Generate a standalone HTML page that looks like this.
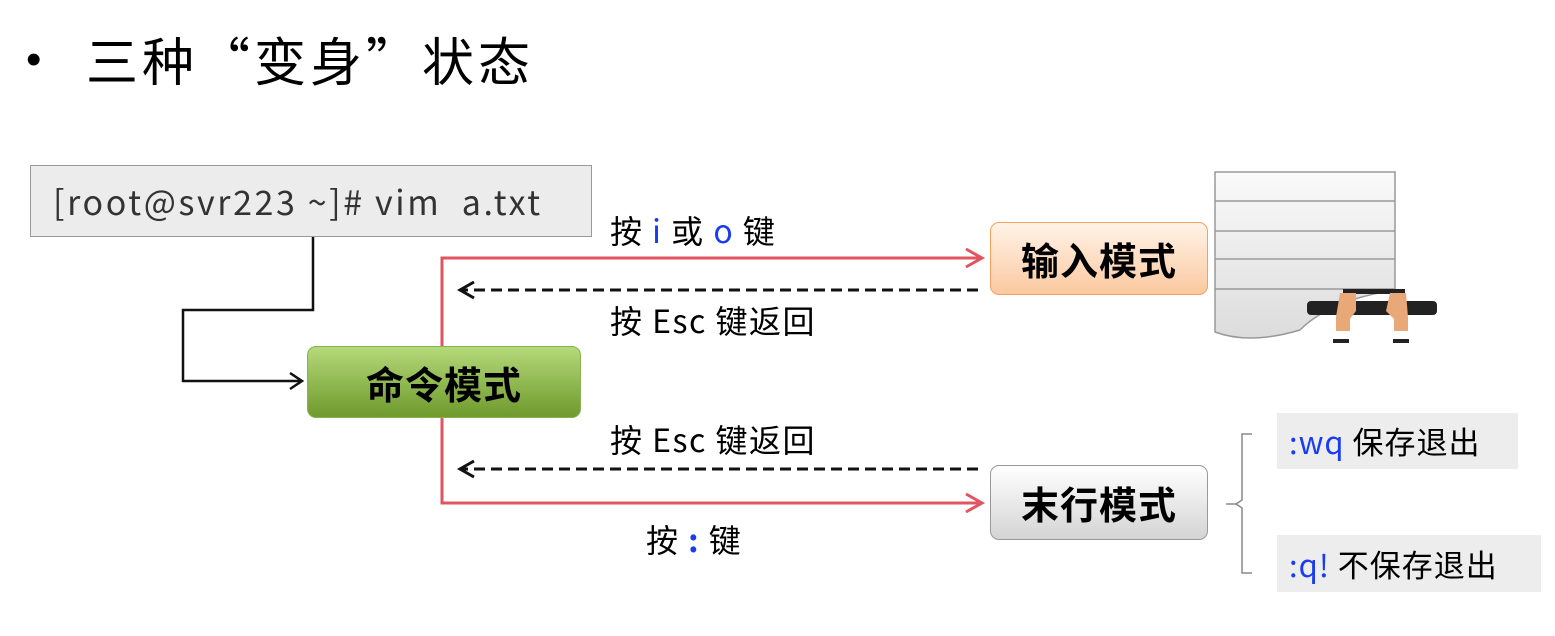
<!DOCTYPE html>
<html><head><meta charset="utf-8"><style>
body{margin:0;width:1555px;height:636px;background:#fff;position:relative;overflow:hidden;font-family:"Noto Sans CJK SC","Liberation Sans",sans-serif}
.a{position:absolute;white-space:nowrap}
.box{position:absolute;display:flex;align-items:center;justify-content:center;font-weight:bold;font-size:38px;color:#000;border-radius:9px;box-sizing:border-box;letter-spacing:1px}
.lbl{position:absolute;font-size:32px;color:#000;white-space:nowrap;line-height:40px;letter-spacing:1.5px}
.b{color:#1a3cf0}
</style></head><body>
<div class="a" style="left:26px;top:38px;font-size:44px;line-height:44px;font-family:'Liberation Sans',sans-serif">•</div>
<div class="a" style="left:86px;top:28px;font-size:52px;line-height:62px;letter-spacing:4px">三种“变身”状态</div>

<svg class="a" style="left:0;top:0" width="1555" height="636">
<defs>
<linearGradient id="doc" x1="0" y1="0" x2="0" y2="1"><stop offset="0" stop-color="#fafafa"/><stop offset="1" stop-color="#dcdcdc"/></linearGradient>
</defs>
<polyline points="313,237 313,310 183,310 183,381 300,381" fill="none" stroke="#111" stroke-width="2.5"/>
<polyline points="290,373 302,381 290,389" fill="none" stroke="#111" stroke-width="2.5"/>
<polyline points="442,346 442,258 980,258" fill="none" stroke="#e05560" stroke-width="3"/>
<polyline points="966,249 982,258 966,267" fill="none" stroke="#e05560" stroke-width="3"/>
<polyline points="442,418 442,503 980,503" fill="none" stroke="#e05560" stroke-width="3"/>
<polyline points="966,494 982,503 966,512" fill="none" stroke="#e05560" stroke-width="3"/>
<line x1="978" y1="290" x2="462" y2="290" stroke="#111" stroke-width="3" stroke-dasharray="11,6"/>
<polyline points="474,282 460,290 474,298" fill="none" stroke="#111" stroke-width="3"/>
<line x1="978" y1="469" x2="462" y2="469" stroke="#111" stroke-width="3" stroke-dasharray="11,6"/>
<polyline points="474,461 460,469 474,477" fill="none" stroke="#111" stroke-width="3"/>
<path d="M1252,434 H1242 V500 L1236,504 H1226 M1236,504 L1242,508 V573 H1252" fill="none" stroke="#888" stroke-width="1.5"/>
<path d="M1215,172 H1395 V290 Q1330,300 1300,330 Q1250,345 1215,332 Z" fill="url(#doc)" stroke="#999" stroke-width="1.5"/>
<g stroke="#999" stroke-width="1.5"><line x1="1215" y1="201" x2="1395" y2="201"/><line x1="1215" y1="231" x2="1395" y2="231"/><line x1="1215" y1="259" x2="1395" y2="259"/><line x1="1215" y1="289" x2="1395" y2="289"/></g>
<rect x="1343" y="289" width="62" height="5" fill="#222"/>
<rect x="1307" y="301" width="130" height="14" rx="4" fill="#222"/>
<path d="M1340,293 h16 v18 l-6,8 v12 h-14 v-14 z" fill="#e8a878"/>
<path d="M1390,293 h16 l2,24 v14 h-14 v-12 l-8,-8 z" fill="#e8a878"/>
<rect x="1333" y="339" width="16" height="4" fill="#222"/><rect x="1393" y="339" width="16" height="4" fill="#222"/>
</svg>

<div class="a" style="left:30px;top:165px;width:562px;height:72px;background:#ececec;border:1.5px solid #999;box-sizing:border-box;font-size:34px;color:#333;padding-left:22px;line-height:70px;letter-spacing:2.6px">[root@svr223 ~]# vim&nbsp; a.txt</div>

<div class="box" style="left:307px;top:346px;width:274px;height:72px;background:linear-gradient(#b5d97a,#6f9a2c);border:1px solid #8ab050">命令模式</div>
<div class="box" style="left:990px;top:222px;width:218px;height:73px;background:linear-gradient(#fff3e8,#fbc9a0);border:1.5px solid #f3a060">输入模式</div>
<div class="box" style="left:990px;top:465px;width:218px;height:75px;background:linear-gradient(#ffffff,#d4d4d4);border:1.5px solid #999">末行模式</div>

<div class="lbl" style="left:610px;top:210px">按 <span class="b">i</span> 或 <span class="b">o</span> 键</div>
<div class="lbl" style="left:610px;top:300px">按 Esc 键返回</div>
<div class="lbl" style="left:610px;top:419px">按 Esc 键返回</div>
<div class="lbl" style="left:646px;top:519px">按 <span class="b" style="font-weight:bold">:</span> 键</div>

<div class="a" style="left:1277px;top:413px;width:241px;height:56px;background:#ededed;font-size:31px;line-height:56px;padding-left:12px;box-sizing:border-box;letter-spacing:1px"><span class="b">:wq</span> 保存退出</div>
<div class="a" style="left:1277px;top:535px;width:264px;height:57px;background:#ededed;font-size:31px;line-height:57px;padding-left:12px;box-sizing:border-box;letter-spacing:1px"><span class="b">:q!</span> 不保存退出</div>
</body></html>
